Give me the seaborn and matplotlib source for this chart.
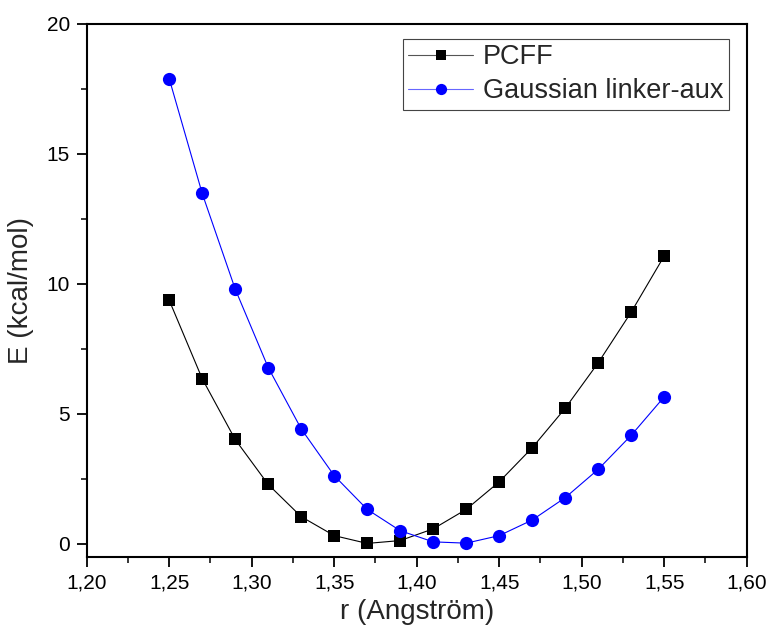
import numpy as np
import pandas as pd
import matplotlib
matplotlib.use("Agg")
import matplotlib.pyplot as plt
import seaborn as sns
from matplotlib.ticker import MultipleLocator, FixedLocator

# data
r = [1.25, 1.27, 1.29, 1.31, 1.33, 1.35, 1.37, 1.39, 1.41, 1.43, 1.45, 1.47, 1.49, 1.51, 1.53, 1.55]
pcff = [9.37, 6.35, 4.01, 2.28, 1.04, 0.31, 0.01, 0.12, 0.57, 1.32, 2.38, 3.69, 5.21, 6.96, 8.91, 11.07]
gauss = [17.90, 13.48, 9.80, 6.78, 4.42, 2.62, 1.32, 0.50, 0.07, 0.02, 0.31, 0.91, 1.77, 2.86, 4.17, 5.65]

x_ticks = [1.20, 1.25, 1.30, 1.35, 1.40, 1.45, 1.50, 1.55, 1.60]
x_ticklabels = ["1,20", "1,25", "1,30", "1,35", "1,40", "1,45", "1,50", "1,55", "1,60"]
y_ticks = [0, 5, 10, 15, 20]

sns.set_style("ticks")
plt.rcParams['font.family'] = ['Liberation Sans', 'DejaVu Sans']

fig = plt.figure(figsize=(7.72, 6.4), dpi=100)
ax = fig.add_axes([0.1123, 0.1302, 0.8549, 0.8323])

df1 = pd.DataFrame({"r": r, "E": pcff})
df2 = pd.DataFrame({"r": r, "E": gauss})

sns.lineplot(data=df1, x="r", y="E", ax=ax, color="black", lw=0.8,
             marker="s", markersize=8, markeredgewidth=0, label="PCFF")
sns.lineplot(data=df2, x="r", y="E", ax=ax, color="#0000ff", lw=0.8,
             marker="o", markersize=9.5, markeredgewidth=0, label="Gaussian linker-aux")

ax.set_xlim(1.20, 1.60)
ax.set_ylim(-0.5, 20)
ax.xaxis.set_major_locator(FixedLocator(x_ticks))
ax.set_xticklabels(x_ticklabels)
ax.xaxis.set_minor_locator(MultipleLocator(0.025))
ax.yaxis.set_major_locator(FixedLocator(y_ticks))
ax.yaxis.set_minor_locator(MultipleLocator(2.5))

ax.tick_params(which="major", direction="out", length=7, width=1.3, labelsize=15, colors="black", pad=5)
ax.tick_params(which="minor", direction="out", length=4, width=1.3)
ax.tick_params(top=False, right=False, which="both")

for s in ax.spines.values():
    s.set_visible(True)
    s.set_linewidth(1.5)
    s.set_color("black")

ax.set_xlabel("r (Angström)", fontsize=20, labelpad=5)
ax.set_ylabel("E (kcal/mol)", fontsize=20, labelpad=9)

leg = ax.legend(loc="upper right", bbox_to_anchor=(0.9725, 0.972), fontsize=19.5,
                frameon=True, fancybox=False, framealpha=1, edgecolor="#444444",
                handlelength=2.4, handletextpad=0.35, borderpad=0.2,
                labelspacing=0.3, borderaxespad=0, markerscale=0.85)
leg.get_frame().set_linewidth(0.8)
for h in leg.get_lines():
    h.set_linewidth(0.8)
leg.get_lines()[0].set_color("#555555")
leg.get_lines()[0].set_markerfacecolor("black")
leg.get_lines()[1].set_color("#6666ff")
leg.get_lines()[1].set_markerfacecolor("#0000ff")

fig.savefig("out.png", dpi=100)
